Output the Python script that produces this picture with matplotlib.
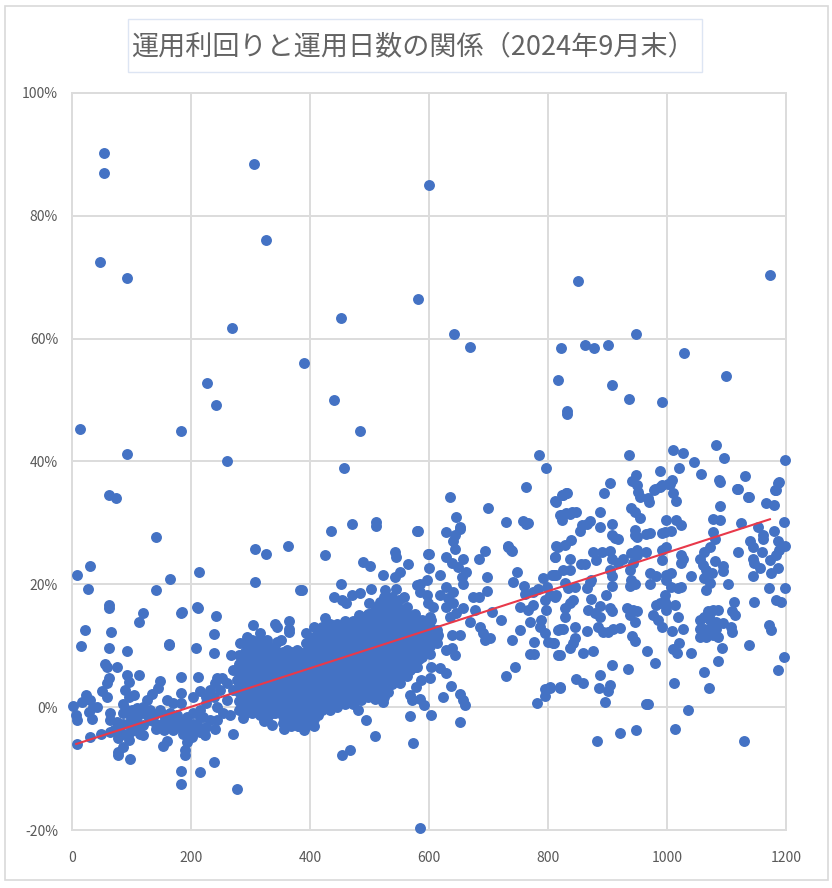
import matplotlib
matplotlib.use("Agg")
import matplotlib.pyplot as plt
from matplotlib.patches import Rectangle

plt.rcParams['font.family'] = ['Noto Sans CJK JP', 'DejaVu Sans']

title = "運用利回りと運用日数の関係（2024年9月末）"
x_ticks = [0, 200, 400, 600, 800, 1000, 1200]
y_ticks = [-20, 0, 20, 40, 60, 80, 100]
y_tick_labels = ["-20%", "0%", "20%", "40%", "60%", "80%", "100%"]
trend_days = [7, 1173]
trend_yields = [-6.0, 30.6]

# (運用日数, 運用利回り%)
high_outliers = [(54,90.3),(54,87),(47,72.5),(92,69.8),(13,45.3),(92,41.2),(63,34.5),(74,34),(8,21.6),(30,23),
 (27,19.3),(141,27.7),(141,19),(165,20.8),(183,45),(227,52.8),(242,49.2),(260,40),(269,61.7),(306,88.4),
 (326,76),(390,56),(440,50),(452,63.4),(457,39),(484,45),(581,66.5),(600,85),(642,60.8),(669,58.6),
 (307,25.7),(326,25),(363,26.2),(307,20.4),(383,19),(213,22),(185,15.5),(210,16.3),(163,10.3),(585,-19.7),
 (850,69.4),(1173,70.4),(816,53.3),(822,58.5),(862,59),(877,58.5),(900,59),(948,60.8),(907,52.4),(936,50.2),
 (1028,57.6),(1099,54),(991,49.7),(832,48.2),(832,47.7),(785,41),(796,39),(936,41),(763,35.8),(1010,41.9),
 (1027,41.4),(1045,39.9),(1021,39),(1057,38),(1082,42.7),(1095,40.6),(1087,37),(1131,37.6),(1119,35.5),
 (1136,34.2),(1198,40.2),(1188,36.6),(1183,35.3),(948,37.8),(942,36.8),(968,34),(978,35.3),(988,35.8),
 (1001,36.3),(1008,37),(988,38.4),(699,32.4),(758,30.3),(766,30),(733,26.2),(738,25.6),(813,33.4),(825,34.5),
 (832,34.8),(820,31.3),(830,31.6),(840,31.8),(857,29.6),(870,30.3),(635,34.2),(645,31),(652,29),(581,28.7),
 (598,25),(882,-5.5),(921,-4.2),(948,-3.7),(1129,-5.5),(1013,-3.6)]

left_band = [(1.3,0.2),(7,-1.3),(8,-2.1),(24,1.95),(16,0.9),(30,1.1),(36,0.05),(42,-0.05),(28,-0.8),(33,-1.85),
 (8,-6),(30,-4.8),(48,-4.4),(22,12.6),(15,9.9),(62,16.6),(63,16.1),(65,12.2),(63,9.7),(92,9.2),(56,7.1),(58,6.6),
 (75,6.5),(63,4.7),(58,3.9),(50,2.7),(58,1.6),(92,5.2),(95,4.1),(89,2.8),(112,5.2),(104,2),(95,1.7),(119,15.4),
 (112,13.9),(163,10.2),(183,15.4),(211,16.1),(242,14.9),(238,11.9),(208,9.7),(238,8.9),(183,4.9),(211,4.9),
 (148,4.3),(145,3.2),(134,2.2),(183,2.3),(215,2.7),(203,1.7),(85,0.5),(64,-0.9),(64,-2.1),(78,-3.2),(126,1.1),
 (159,1.1),(170,0.6),(184,0.6),(109,-0.2),(120,0),(131,-0.5),(148,-0.5),(165,-1),(86,-1),(98,-1.3),(109,-1.6),
 (70,-3.7),(86,-4.3),(114,-4.3),(120,-4.6),(78,-5.1),(95,-5.3),(86,-6.5),(78,-7.3),(78,-7.8),(98,-8.4),(64,-4),
 (159,-5.5),(153,-6.4),(193,-5.6),(190,-7),(190,-7.8),(183,-10.4),(183,-12.5),(215,-10.6),(238,-8.9),(277,-13.3),
 (270,-4.4),(224,-4.6),(240,-3.5),(287,-1.7),(322,-2.2),(336,-2.9),(357,-3.5),(379,-3.1),(390,-3.7),(305,13.4),
 (341,13.6),(344,13.1),(365,14),(364,12.8),(364,12.2),(75,-2.4),(86,-2.7),(98,-2.4),(109,-2.9),(120,-2.9),
 (131,-2.1),(142,-2.7),(154,-2.4),(165,-2.9),(176,-3.2),(187,-3.5),(198,-3.7),(210,-2.7),(221,-1.6),(232,-2.1),
 (243,-2.1),(254,-1),(266,-1.3),(204,-1),(193,-1.6),(176,-1.3),(142,-3.5),(154,-3.7),(170,-3.7),(187,-4.3),
 (201,-4.8),(98,-4),(106,-3.7),(243,4.7),(252,4.8),(240,3.9),(232,2.8),(226,1.7),(238,1.7),(249,2.8),(260,3.9),
 (215,-0.5),(226,0.6),(243,0),(260,1.1),(271,2.8),(277,4.4),(271,6),(268,8.5),(282,10.4),(294,11.5),(316,12),
 (327,10.9),(344,10.6),(352,11),(361,9.3),(378,9.3),(392,8.7),(92,-0.5),(100,-0.5),(114,-1),(126,-1.3),(137,-1.3),
 (154,-1.3),(170,-2.1),(182,-2.4),(193,-2.9),(204,-2.7),(226,-3.2),(215,-4),(204,-3.7),(215,-1.6)]

blob_days = [280,290,303,316,329,342,355,368,381,394,407,420,433,446,459,472,485,498,511,524,537,550,563,576,589,602,613]
blob_yields = [
 [8.5,7,5.5,4,2.5,1,-0.5],
 [10.5,9,7.5,6,4.5,3,1.5,0,-1],
 [11,9.5,8,6.5,5,3.5,2,0.5,-1],
 [11,9.5,8,6.5,5,3.5,2,0.5,-1.2],
 [10,8.5,7,5.5,4,2.5,1,-0.5,-1.5],
 [9.5,8,6.5,5,3.5,2,0.5,-1],
 [9,7.5,6,4.5,3,1.5,0,-1.5,-2.5],
 [9,7.5,6,4.5,3,1.5,0,-1.5,-3],
 [9,7.5,6,4.5,3,1.5,0,-1.5,-3],
 [12,10.5,9,7.5,6,4.5,3,1.5,0,-1.5,-3],
 [13,11.5,10,8.5,7,5.5,4,2.5,1,-0.5,-2,-3],
 [13,11.5,10,8.5,7,5.5,4,2.5,1,-0.5],
 [13.5,12,10.5,9,7.5,6,4.5,3,1.5,0,-0.5],
 [13.5,12,10.5,9,7.5,6,4.5,3,1.5,0],
 [14,12.5,11,9.5,8,6.5,5,3.5,2,0.5],
 [14,12.5,11,9.5,8,6.5,5,3.5,2,0.5],
 [14.7,13,11.5,10,8.5,7,5.5,4,2.5,1.1],
 [15.2,13.5,12,10.5,9,7.5,6,4.5,3,1.7],
 [16.3,14.5,13,11.5,10,8.5,7,5.5,4,2.2],
 [18,16.5,15,13.5,12,10.5,9,7.5,6,4.5,3,1.7],
 [18,16.5,15,13.5,12,10.5,9,7.5,6,3.8],
 [17.4,16,14.5,13,11.5,10,8.5,7,5.5,4.4],
 [16.3,15,13.5,12,10.5,9,7.5,5],
 [15.2,13.5,12,10.5,9,7.5,6.6],
 [14.2,12.5,11,9.5,8.2],
 [14.7,13,11.5,10,8.7],
 [12.5,11.5,10.5]]

blob_days_b = [285,297,310,323,336,349,362,375,388,401,414,427,440,453,466,479,492,505,518,531,544,557,570,583,596]
blob_yields_b = [
 [7.8,6.2,4.8,3.2,1.8,0.2],
 [9.8,8.2,6.8,5.2,3.8,2.2,0.8,-0.6],
 [10.2,8.8,7.2,5.8,4.2,2.8,1.2,-0.2],
 [10.2,8.8,7.2,5.8,4.2,2.8,1.2,-0.3],
 [9.2,7.8,6.2,4.8,3.2,1.8,0.2,-1],
 [8.8,7.2,5.8,4.2,2.8,1.2,-0.2],
 [8.2,6.8,5.2,3.8,2.2,0.8,-0.8,-2],
 [8.2,6.8,5.2,3.8,2.2,0.8,-0.8,-2.2],
 [8.2,6.8,5.2,3.8,2.2,0.8,-0.8,-2.2],
 [11.2,9.8,8.2,6.8,5.2,3.8,2.2,0.8,-0.8,-2.2],
 [12.2,10.8,9.2,7.8,6.2,4.8,3.2,1.8,0.2,-1.2],
 [12.8,11.2,9.8,8.2,6.8,5.2,3.8,2.2,0.8],
 [12.8,11.2,9.8,8.2,6.8,5.2,3.8,2.2,0.8],
 [13.2,11.8,10.2,8.8,7.2,5.8,4.2,2.8,1.2],
 [13.2,11.8,10.2,8.8,7.2,5.8,4.2,2.8,1.2],
 [13.8,12.2,10.8,9.2,7.8,6.2,4.8,3.2,1.8],
 [14.2,12.8,11.2,9.8,8.2,6.8,5.2,3.8,2.4],
 [15.4,13.8,12.2,10.8,9.2,7.8,6.2,4.8,3.2],
 [17.2,15.8,14.2,12.8,11.2,9.8,8.2,6.8,5.2,3.8,2.4],
 [17.2,15.8,14.2,12.8,11.2,9.8,8.2,6.8,5.2],
 [16.8,15.2,13.8,12.2,10.8,9.2,7.8,6.2,4.8],
 [15.8,14.2,12.8,11.2,9.8,8.2,6.2],
 [14.8,13.2,11.8,10.2,8.8,7.2],
 [13.8,12.2,10.8,9.2,7.8],
 [13.8,12.2,10.8,9.2]]

mid_range = [(435,28.7),(470,29.9),(511,30.2),(511,29.5),(579,28.7),(730,30.2),(763,29.9),(628,28.5),(643,28),(652,29.3),
 (641,27),(643,25.8),(694,25.5),(684,24.1),(733,26.1),(740,25.5),(748,22),(741,20.4),(759,19.7),(761,18.5),(775,18.8),
 (792,21.1),(810,21.5),(814,26.2),(811,24.5),(798,19.6),(783,19.3),(795,17.4),(797,15.9),(813,18.2),(775,16.6),
 (767,15.9),(753,16.3),(769,13.9),(789,14.2),(786,13.1),(795,12),(800,10.6),(809,10.4),(777,10.6),(817,12.5),
 (753,12.6),(740,10.9),(721,14.2),(706,15.5),(697,18.9),(698,21.2),(674,17.9),(684,17.9),(678,15.8),(663,22),
 (657,20.1),(655,21.2),(657,24.2),(629,24.5),(638,23.4),(649,22.9),(600,25),(600,22.6),(619,21.5),(565,23.3),
 (551,22),(543,21.2),(543,25.3),(544,24.5),(489,23.6),(501,23),(522,21.5),(425,24.8),(452,20.1),(386,19.1),
 (585,20.1),(596,20.7),(579,19.9),(585,18.8),(596,18.2),(599,16.9),(607,16.3),(604,14.2),(503,19.2),(526,19.1),
 (545,19.3),(558,17.9),(484,18.6),(470,18.2),(461,16.9),(453,17.5),(440,18),(499,16.9),(425,14.5),(483,15),(520,16.9),
 (618,18.2),(629,19.6),(641,18.8),(632,17.7),(641,16.9),(657,16.1),(646,15.3),(629,16.3),(635,14.7),(669,13.9),
 (685,13.1),(691,12),(694,10.9),(703,11.2),(652,11.7),(638,11.7),(615,11.7),(629,9.3),(639,9.6),(643,8.5),(603,6.6),
 (618,6.3),(629,5.5),(637,3.5),(624,1.7),(652,2.2),(657,1.1),(661,0.3),(652,-2.4),(603,-1.2),(591,0.3),(585,1.4),
 (601,4.7),(587,4.4),(578,3.3),(568,2),(571,1.1),(568,-1.4),(523,0.8),(509,1.4),(481,-0.4),(494,-2.1),(509,-4.7),
 (573,-5.8),(467,-6.9),(454,-7.8),(531,2.5),(551,3.9),(568,6),(579,6.6),(730,5.1),(745,6.5),(769,8.7),(777,8.7),
 (795,3),(803,3.3),(795,1.8),(782,0.6),(820,3.3),(817,8.5)]

right_range = [(904,36.5),(949,36.2),(951,35.1),(954,34.2),(969,33.4),(979,35.6),(991,36.2),(1005,36.3),(1010,34.8),
 (1015,33.6),(1089,36.7),(1118,35.6),(1137,34.2),(1167,33.2),(1179,32.9),(1187,36.5),(1182,35.4),(894,34.9),(831,34.9),
 (823,34.6),(811,33.5),(847,31.7),(837,31.5),(823,31.3),(823,30.4),(888,31.7),(939,32.4),(947,31.8),(955,30.8),(908,29.9),
 (888,29.4),(866,29.8),(853,28.7),(839,27.2),(828,26.4),(817,26.1),(811,24.5),(837,24.2),(876,25.3),(890,25.3),(904,25.5),
 (881,24),(907,24.2),(912,27.5),(907,28),(918,27.3),(946,28.9),(946,28),(950,27.7),(965,28.2),(971,28.3),(999,30.5),
 (1015,30.5),(1024,29.7),(996,28.6),(991,28.4),(1007,28.7),(1077,30.6),(1089,30.5),(1089,32.7),(1077,28.6),(1125,30),
 (1153,29.4),(1161,28),(1161,27.3),(1179,28.7),(1196,30.2),(1139,27),(1145,26.1),(1119,25.3),(1160,25.3),(1187,27.1),
 (1198,26.3),(1189,25.6),(1184,24.8),(1173,24),(1145,24.2),(1147,23.4),(1156,22.6),(1187,22.6),(1175,21.8),(1145,21.3),
 (1171,19.4),(1199,19.4),(1184,17.5),(1192,17.1),(1147,17.1),(1112,17.2),(1110,15.6),(1115,15),(1103,20),(1041,21.3),
 (1094,23),(1094,22.2),(1080,23.8),(1080,27.3),(1072,26.1),(1063,25.3),(1055,24.2),(1061,23.2),(1066,22.3),(1075,21.9),
 (1062,21),(1072,20.2),(1066,19.1),(999,26.1),(991,25.6),(949,25.6),(940,25.1),(965,25.3),(949,24.8),(926,24.2),(918,23.4),
 (904,22.3),(943,23.4),(937,22.3),(907,21.3),(907,19.7),(940,20.7),(937,19.7),(946,20.1),(971,21.8),(981,21.3),(971,20.1),
 (992,24),(1023,24.8),(1027,24.2),(1023,23.4),(999,21.5),(1007,21.8),(999,20.7),(1007,19.6),(1024,19.6),(1019,19.4),
 (996,18.3),(988,16.9),(999,16.6),(1013,16.6),(999,15.8),(996,17.2),(982,16.6),(1019,14.6),(977,15),(985,14.2),(992,13.1),
 (1027,12.8),(1009,12.4),(1021,10.4),(1010,9.5),(1016,8.9),(1041,8.8),(1086,7.5),(1093,9.7),(1137,10.2),(1171,13.4),
 (1174,12.6),(1197,8.2),(1187,6),(1063,5.8),(1071,3.1),(1011,4),(1035,-0.4),(968,0.5),(964,0.5),(935,6.2),(908,6.8),
 (888,5.3),(979,7.2),(967,9.2),(947,10.7),(942,11.6),(886,3.1),(904,3.6),(901,2.7),(895,0.9),(859,4),(847,4.6),(821,3.2),
 (803,3.2),(876,9.2),(859,8.9),(820,8.5),(842,10.4),(837,9.6),(845,11.2),(846,13),(866,12.4),(825,12.7),(820,12.7),
 (810,10.4),(828,14.7),(828,16.1),(837,16.9),(842,17.5),(811,18),(803,18.3),(873,17.6),(898,18.3),(867,15.8),(887,16.4),
 (879,15.3),(887,14.7),(904,16.1),(907,15.6),(884,13.1),(893,12.3),(901,12.3),(909,12.8),(921,12.9),(932,16.1),(943,15.8),
 (950,15.7),(937,15),(946,13.9),(834,19.4),(845,19.6),(865,19.4),(870,20.4),(873,20.7),(828,20.2),(814,21.5),(806,21.5),
 (825,22.3),(837,22.3),(856,23.3),(862,23.3),(1077,15.9),(1086,15.9),(1069,15.6),(1063,14.7),(1055,14.2),(1072,14.2),
 (1083,13.9),(1094,13.7),(1108,13.1),(1110,12.3),(1055,12.8),(1063,12.8),(1072,12.8),(1083,12.8),(1055,11.5),(1066,11.5),
 (1077,11.8),(1086,11.5),(1072,15.3)]

W, H = 832, 888
fig = plt.figure(figsize=(W/100, H/100), dpi=100, facecolor="white")
fig.add_artist(Rectangle((5/W, 1-880/H), 823/W, 874/H, transform=fig.transFigure,
                         fill=False, ec="#d9d9d9", lw=1.2))
ax = fig.add_axes([72/W, 1-830/H, (786-72)/W, (830-93)/H])
ax.set_xlim(0, 1200)
ax.set_ylim(-20, 100)
ax.set_xticks(x_ticks)
ax.set_yticks(y_ticks)
ax.set_yticklabels(y_tick_labels)
ax.grid(True, color="#dcdcdc", lw=1.4)
ax.set_axisbelow(True)
for s in ax.spines.values():
    s.set_color("#dcdcdc")
    s.set_linewidth(1.4)
ax.tick_params(length=0, labelsize=10, labelcolor="#595959")
ax.tick_params(axis="y", pad=10)
ax.tick_params(axis="x", pad=15)

days, yields = [], []
for group in (high_outliers, left_band, mid_range, right_range):
    for d, y in group:
        days.append(d)
        yields.append(y)
for col_days, col_yields in ((blob_days, blob_yields), (blob_days_b, blob_yields_b)):
    for d, ys in zip(col_days, col_yields):
        for y in ys:
            days.append(d)
            yields.append(y)

ax.scatter(days, yields, s=62, color="#4472c4", linewidths=0, clip_on=False, zorder=3)
ax.plot(trend_days, trend_yields, color="#e8394a", lw=1.5, zorder=4)

fig.add_artist(Rectangle((128/W, 1-72/H), 574/W, 53/H, transform=fig.transFigure,
                         fc="white", ec="#dde5f3", lw=1.0))
fig.text(413/W, 1-47/H, title, ha="center", va="center", fontsize=19.5, color="#636363")
fig.savefig("out.png", dpi=100)
